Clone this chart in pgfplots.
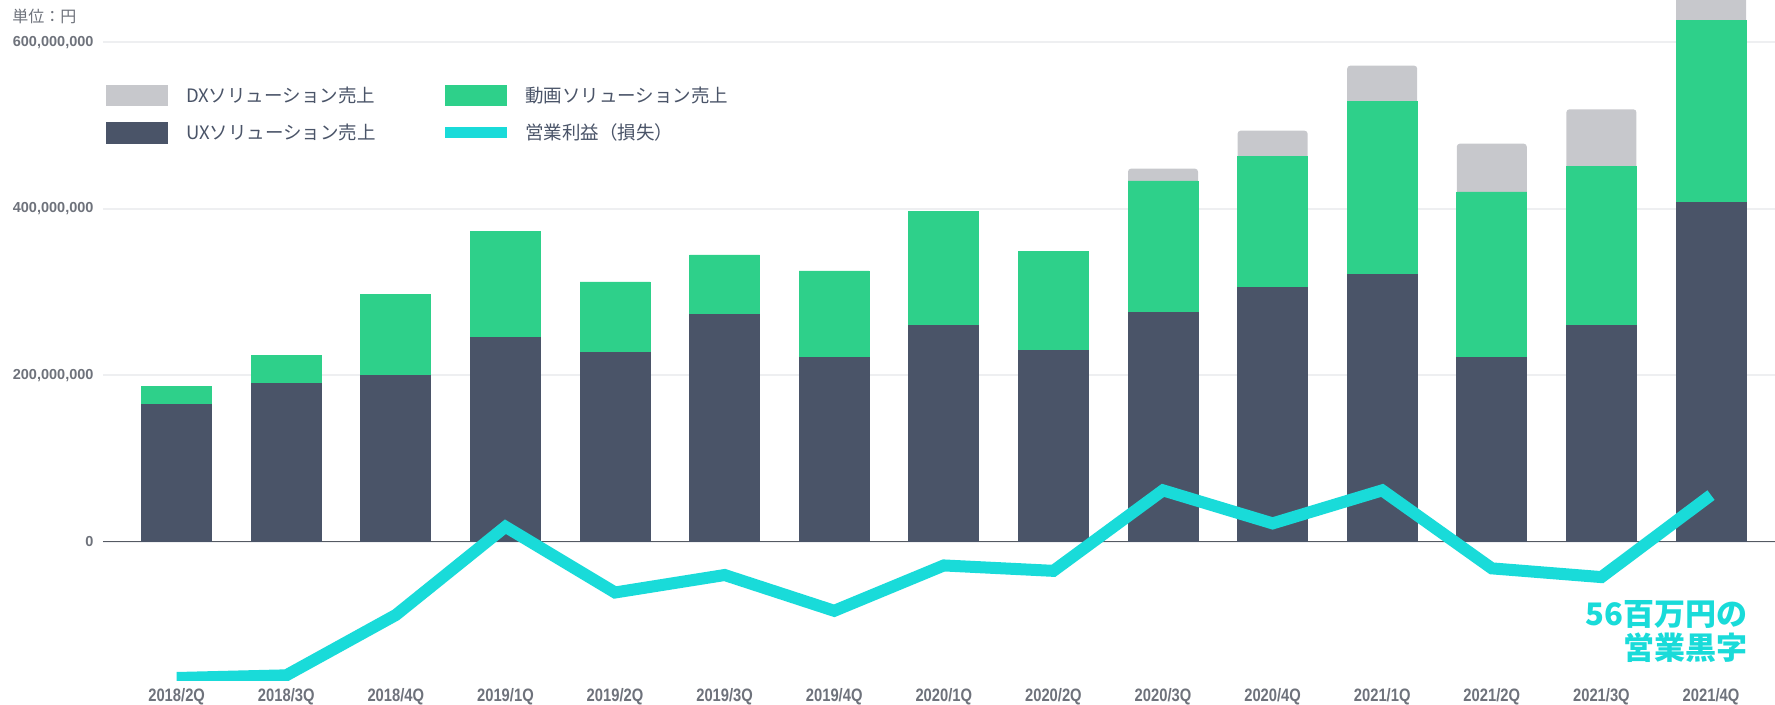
\documentclass[border=0pt]{standalone}
\usepackage{fontspec}
\setmainfont{Noto Sans CJK JP}
\newfontfamily\xtickfont[FakeStretch=0.82]{Liberation Sans}
\newfontfamily\ytickfont{Liberation Sans}
\usepackage{pgfplots}
\pgfplotsset{compat=1.18}
\usetikzlibrary{calc}
\definecolor{dxgrey}{HTML}{C7C8CC}
\definecolor{vidgreen}{HTML}{2ED08A}
\definecolor{uxdark}{HTML}{4A5468}
\definecolor{cyanline}{HTML}{19DBD9}
\definecolor{gridgrey}{HTML}{EEEFF1}
\definecolor{zeroline}{HTML}{555A63}
\definecolor{tickgrey}{HTML}{6E727B}
\definecolor{legtext}{HTML}{4A5468}
\begin{document}
\begin{tikzpicture}
\begin{axis}[
  scale only axis,
  width=668.8pt, height=272pt,
  xmin=-0.672, xmax=14.584,
  ymin=-166.1, ymax=650.7,
  axis line style={draw=none},
  tick style={draw=none},
  major tick length=0pt,
  xtick={0,...,14},
  xticklabels={2018/2Q,2018/3Q,2018/4Q,2019/1Q,2019/2Q,2019/3Q,2019/4Q,2020/1Q,2020/2Q,2020/3Q,2020/4Q,2021/1Q,2021/2Q,2021/3Q,2021/4Q},
  ytick={0,200,400,600},
  yticklabels={0,{200,000,000},{400,000,000},{600,000,000}},
  ymajorgrids,
  grid style={gridgrey, line width=0.8pt},
  yticklabel style={anchor=east, inner sep=0pt, xshift=-3.6pt, font=\ytickfont\bfseries\fontsize{5.8}{6}\selectfont, text=tickgrey},
  xticklabel style={anchor=north, inner sep=0pt, yshift=-3pt, font=\xtickfont\bfseries\fontsize{7.2}{8}\selectfont, text=tickgrey},
  legend columns=2,
  legend cell align=left,
  legend style={at={(axis description cs:0.0018,0.875)}, anchor=north west,
    draw=none, fill=none, inner sep=0pt, outer sep=0pt,
    nodes={inner sep=0pt},
    row sep=6.3pt,
    font=\fontsize{7.4}{8}\selectfont, text=legtext,
    /tikz/every odd column/.style={column sep=7.2pt},
    /tikz/every even column/.style={column sep=19.6pt, text width=84pt}},
]
\coordinate (BL) at (rel axis cs:0,0);
\coordinate (TR) at (rel axis cs:1,1);
\coordinate (TL) at (rel axis cs:0,1);
\draw[zeroline, line width=0.6pt] (axis cs:-0.672,0) -- (axis cs:14.584,0);
% DX top (cumulative total)
\addplot[ybar, bar width=28pt, bar shift=0pt, fill=dxgrey, draw=none, rounded corners=1.2pt, forget plot]
  coordinates {(9,448.1)(10,493.7)(11,571.8)(12,478.1)(13,519.4)(14,690)};
% video top (cumulative UX + video)
\addplot[ybar, bar width=28pt, bar shift=0pt, fill=vidgreen, draw=vidgreen, line width=0.3pt, forget plot]
  coordinates {(0,186.2)(1,223.4)(2,297.2)(3,372.4)(4,312)(5,344.4)(6,325.2)(7,396.4)(8,348.8)(9,433.3)(10,463.3)(11,528.5)(12,420.1)(13,450.5)(14,625.8)};
% UX
\addplot[ybar, bar width=28pt, bar shift=0pt, fill=uxdark, draw=uxdark, line width=0.4pt, forget plot]
  coordinates {(0,164.6)(1,190.6)(2,199.4)(3,245)(4,227.5)(5,273.1)(6,221)(7,259.9)(8,230)(9,275.1)(10,305.6)(11,320.4)(12,221.3)(13,259.9)(14,407.2)};
% operating profit (loss)
\addplot[cyanline, line width=4.8pt, line join=miter, forget plot]
  coordinates {(0,-163.7)(1,-160.5)(2,-88)(3,18)(4,-61)(5,-40)(6,-83)(7,-28.5)(8,-35)(9,61.7)(10,22)(11,61.7)(12,-32)(13,-42.5)(14,56)};
\addlegendimage{legend image code/.code={\fill[dxgrey] (0pt,-3.8pt) rectangle (24.4pt,4.4pt);}}
\addlegendentry{DXソリューション売上}
\addlegendimage{legend image code/.code={\fill[vidgreen] (0pt,-3.8pt) rectangle (24.4pt,4.4pt);}}
\addlegendentry{動画ソリューション売上}
\addlegendimage{legend image code/.code={\fill[uxdark] (0pt,-3.8pt) rectangle (24.4pt,4.4pt);}}
\addlegendentry{UXソリューション売上}
\addlegendimage{legend image code/.code={\fill[cyanline] (0pt,-1.7pt) rectangle (24.4pt,2.3pt);}}
\addlegendentry{営業利益（損失）}
\node[anchor=east, align=right, inner sep=0pt, text=cyanline, font=\bfseries\fontsize{12.4}{13.3}\selectfont] at (axis cs:14.337,-108) {56百万円の\\営業黒字};
\end{axis}
\node[anchor=west, inner sep=0pt, text=tickgrey, font=\fontsize{6.4}{7}\selectfont] at ($(TL)+(-36.4pt,-6.4pt)$) {単位：円};
\pgfresetboundingbox
\path ($(BL)+(-41.2pt,-9.6pt)$) rectangle (TR);
\end{tikzpicture}
\end{document}
